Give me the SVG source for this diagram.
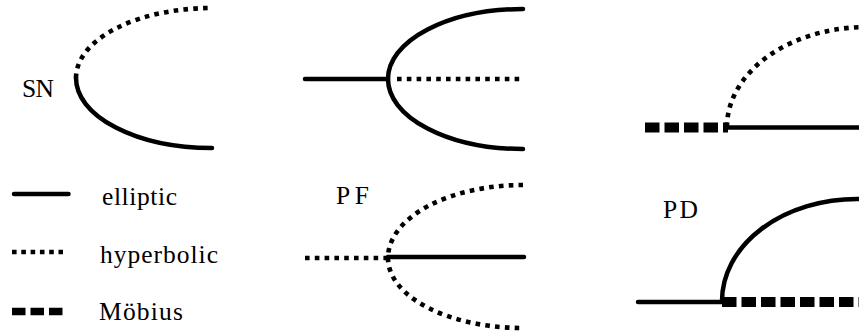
<svg xmlns="http://www.w3.org/2000/svg" width="859" height="335" viewBox="0 0 859 335">
<style>
.sol{fill:none;stroke:#000;stroke-width:4.5;stroke-linecap:round}
.hyp{fill:none;stroke:#000;stroke-width:4.6;stroke-dasharray:4.6 5.2}
.mob{fill:none;stroke:#000;stroke-width:10;stroke-dasharray:14.5 5}
.lbl{font-family:"Liberation Serif","DejaVu Serif",serif;font-size:25.5px;fill:#000}
</style>
<rect width="859" height="335" fill="#fff"/>
<g id="connectors">
<g id="sn">
<path class="hyp" d="M76,78 A136,70 0 0 1 212,8"/>
<path class="sol" d="M76,78 A136,70 0 0 0 212,148"/>
</g>
<g id="pitchfork-top">
<path class="sol" d="M305,79 L388,79"/>
<path class="hyp" d="M397,79 L522,79"/>
<path class="sol" d="M523,9 A135,70 0 0 0 388,79 A135,70 0 0 0 523,149"/>
</g>
<g id="mobius-top">
<path class="mob" d="M645,127.5 L728,127.5"/>
<path class="sol" d="M728,127.5 L862,127.5"/>
<path class="hyp" d="M727,127 A140,100 0 0 1 867,27"/>
</g>
<g id="pf">
<path class="hyp" d="M305,258 L388,258"/>
<path class="sol" d="M388,257 L524,257"/>
<path class="hyp" d="M523,185 A135,73 0 0 0 388,258 A135,70 0 0 0 523,328"/>
</g>
<g id="pd">
<path class="sol" d="M638,302 L722,302"/>
<path class="mob" d="M722,302 L862,302"/>
<path class="sol" d="M722,301 A135,102 0 0 1 857,199 L865,199"/>
</g>
<g id="legend-lines">
<path class="sol" d="M14,194 L68.5,194"/>
<path class="hyp" style="stroke-dasharray:4.6 4.7" d="M12,252 L63,252"/>
<path class="mob" style="stroke-width:7.5;stroke-dasharray:13.5 5" d="M12,311.5 L63,311.5"/>
</g>
</g>
<g id="label-sn"><text class="lbl" x="22" y="97" textLength="32" lengthAdjust="spacing">SN</text></g>
<g id="label-pf"><text class="lbl" x="336" y="204" textLength="33" lengthAdjust="spacing">PF</text></g>
<g id="label-pd"><text class="lbl" x="663" y="218" textLength="35" lengthAdjust="spacing">PD</text></g>
<g id="legend-elliptic"><text class="lbl" x="102" y="205" textLength="75" lengthAdjust="spacing">elliptic</text></g>
<g id="legend-hyperbolic"><text class="lbl" x="100" y="263" textLength="118" lengthAdjust="spacing">hyperbolic</text></g>
<g id="legend-mobius"><text class="lbl" x="99" y="320" textLength="84" lengthAdjust="spacing">Möbius</text></g>
</svg>
